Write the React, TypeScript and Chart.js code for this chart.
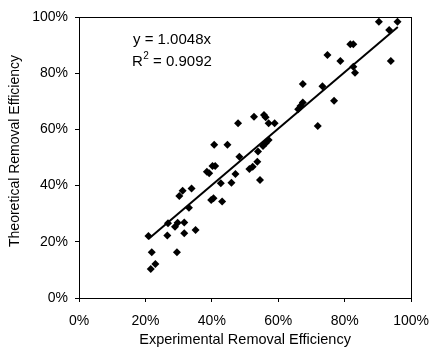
import React, { useEffect, useRef } from "react";
import { Chart, registerables } from "chart.js";

Chart.register(...registerables);

const EXPERIMENTAL: number[] = [
  0.209, 0.219, 0.23, 0.216, 0.266, 0.268, 0.289, 0.297, 0.317, 0.317,
  0.351, 0.295, 0.331, 0.302, 0.312, 0.339, 0.385, 0.392, 0.402, 0.41,
  0.398, 0.405, 0.431, 0.427, 0.459, 0.471, 0.407, 0.447, 0.483, 0.479,
  0.513, 0.523, 0.537, 0.539, 0.554, 0.562, 0.571, 0.527, 0.557, 0.562,
  0.571, 0.589, 0.545, 0.66, 0.667, 0.674, 0.674, 0.733, 0.768, 0.719,
  0.748, 0.787, 0.817, 0.826, 0.826, 0.831, 0.903, 0.959, 0.934, 0.939,
];
const THEORETICAL: number[] = [
  0.221, 0.163, 0.121, 0.103, 0.222, 0.266, 0.254, 0.268, 0.269, 0.23,
  0.242, 0.163, 0.321, 0.363, 0.382, 0.39, 0.449, 0.444, 0.47, 0.47,
  0.349, 0.355, 0.343, 0.408, 0.41, 0.441, 0.545, 0.545, 0.503, 0.622,
  0.459, 0.467, 0.485, 0.521, 0.541, 0.551, 0.562, 0.645, 0.651, 0.643,
  0.622, 0.622, 0.42, 0.672, 0.683, 0.696, 0.762, 0.754, 0.702, 0.612,
  0.865, 0.843, 0.903, 0.903, 0.823, 0.802, 0.983, 0.983, 0.954, 0.843,
];
const TREND_SLOPE = 1.0048;
const TREND_X: number[] = [0.209, 0.96];
const TICK_VALUES: number[] = [0, 0.2, 0.4, 0.6, 0.8, 1.0];
const X_TITLE = "Experimental Removal Efficiency";
const Y_TITLE = "Theoretical Removal Efficiency";
const EQ_TEXT = "y = 1.0048x";
const R2_VALUE = "0.9092";

const FONT = "'Liberation Sans', Arial, Helvetica, sans-serif";

export default function App() {
  const ref = useRef<HTMLCanvasElement | null>(null);

  useEffect(() => {
    if (!ref.current) return;
    const points = EXPERIMENTAL.map((x, i) => ({ x, y: THEORETICAL[i] }));
    const trend = TREND_X.map((x) => ({ x, y: TREND_SLOPE * x }));

    const framePlugin = {
      id: "frame",
      afterDraw(chart: any) {
        const { ctx, chartArea } = chart;
        ctx.save();
        ctx.strokeStyle = "#000";
        ctx.lineWidth = 1;
        ctx.strokeRect(
          Math.round(chartArea.left) + 0.5,
          Math.round(chartArea.top) + 0.5,
          Math.round(chartArea.right - chartArea.left),
          Math.round(chartArea.bottom - chartArea.top)
        );
        ctx.fillStyle = "#000";
        // y-axis title
        ctx.save();
        ctx.translate(15, 151);
        ctx.rotate(-Math.PI / 2);
        ctx.textAlign = "center";
        ctx.textBaseline = "middle";
        ctx.font = `14px ${FONT}`;
        ctx.fillText(Y_TITLE, 0, 0);
        ctx.restore();
        // annotation
        ctx.textBaseline = "middle";
        ctx.textAlign = "left";
        ctx.font = `15px ${FONT}`;
        ctx.fillText(EQ_TEXT, 133, 40);
        ctx.fillText("R", 132, 62);
        const rw = ctx.measureText("R").width;
        ctx.font = `10px ${FONT}`;
        ctx.fillText("2", 132 + rw + 0.5, 56);
        const sw = ctx.measureText("2").width;
        ctx.font = `15px ${FONT}`;
        ctx.fillText(" = " + R2_VALUE, 132 + rw + sw + 0.5, 62);
        ctx.restore();
      },
    };

    const tickCb = (v: any) => Math.round(Number(v) * 100) + "%";

    const chart = new Chart(ref.current, {
      type: "scatter",
      data: {
        datasets: [
          {
            type: "scatter",
            data: points,
            pointStyle: "rectRot",
            pointRadius: 4,
            backgroundColor: "#000",
            borderColor: "#000",
            borderWidth: 0,
          },
          {
            type: "line",
            data: trend,
            borderColor: "#000",
            borderWidth: 2,
            pointRadius: 0,
            fill: false,
          } as any,
        ],
      },
      options: {
        animation: false,
        responsive: false,
        maintainAspectRatio: false,
        layout: { padding: { left: 0, right: 21, top: 17, bottom: 0 } },
        plugins: {
          legend: { display: false },
          tooltip: { enabled: false },
        },
        scales: {
          x: {
            type: "linear",
            min: 0,
            max: 1,
            afterFit: (s: any) => {
              s.height = 54;
            },
            afterBuildTicks: (s: any) => {
              s.ticks = TICK_VALUES.map((v) => ({ value: v }));
            },
            ticks: {
              callback: tickCb,
              color: "#000",
              font: { family: FONT, size: 14 },
              padding: 11,
              maxRotation: 0,
            },
            grid: {
              display: true,
              drawOnChartArea: false,
              drawTicks: true,
              tickLength: 4,
              color: "#000",
            },
            border: { display: true, color: "#000", width: 1 },
            title: {
              display: true,
              text: X_TITLE,
              color: "#000",
              font: { family: FONT, size: 14.5 },
              padding: { top: 0, bottom: 3 },
            },
          },
          y: {
            type: "linear",
            min: 0,
            max: 1,
            afterFit: (s: any) => {
              s.width = 79;
            },
            afterBuildTicks: (s: any) => {
              s.ticks = TICK_VALUES.map((v) => ({ value: v }));
            },
            ticks: {
              callback: tickCb,
              color: "#000",
              font: { family: FONT, size: 14 },
              padding: 7,
            },
            grid: {
              display: true,
              drawOnChartArea: false,
              drawTicks: true,
              tickLength: 4,
              color: "#000",
            },
            border: { display: true, color: "#000", width: 1 },
            title: { display: false },
          },
        },
      },
      plugins: [framePlugin],
    });
    return () => chart.destroy();
  }, []);

  return (
    <div style={{ position: "fixed", left: 0, top: 0, width: 440, height: 352, background: "#fff" }}>
      <canvas ref={ref} width={440} height={352} style={{ width: 440, height: 352 }} />
    </div>
  );
}
